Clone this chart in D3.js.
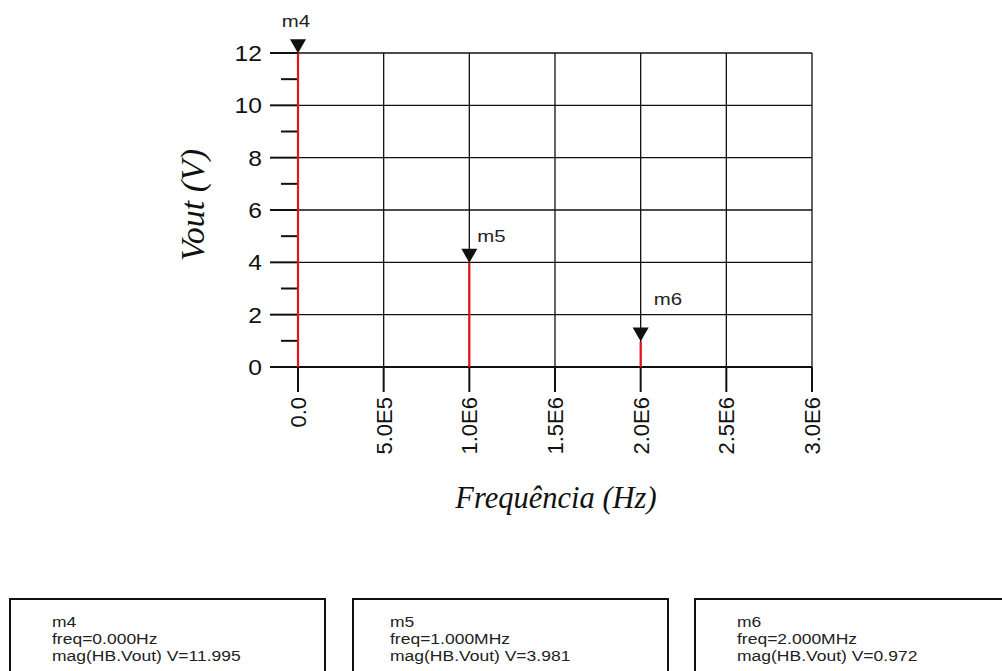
<!DOCTYPE html>
<html>
<head>
<meta charset="utf-8">
<script src="https://cdn.jsdelivr.net/npm/d3@7"></script>
<style>
  body { margin: 0; background: #fff; }
  svg { display: block; }
</style>
</head>
<body>
<svg id="chart"></svg>
<script>
const W = 1002, H = 671;

// marker data (harmonic balance spectrum)
const markerNames = ["m4", "m5", "m6"];
const markerFreqs = [0, 1e6, 2e6];
const markerMags = [11.995, 3.981, 0.972];

const xTicks = [0, 5e5, 1e6, 1.5e6, 2e6, 2.5e6, 3e6];
const xTickLabels = ["0.0", "5.0E5", "1.0E6", "1.5E6", "2.0E6", "2.5E6", "3.0E6"];
const yMajor = [0, 2, 4, 6, 8, 10, 12];
const yMinor = [1, 3, 5, 7, 9, 11];

const svg = d3.select("#chart")
  .attr("width", W)
  .attr("height", H);

const x = d3.scaleLinear().domain([0, 3e6]).range([298, 812]);
const y = d3.scaleLinear().domain([0, 12]).range([367, 53]);

const ink = "#111";
const sans = "Liberation Sans, Arial, sans-serif";
const serif = "Liberation Serif, Times New Roman, serif";

// grid
svg.append("g").selectAll("line")
  .data(yMajor.slice(1))
  .enter().append("line")
  .attr("x1", x(0)).attr("x2", x(3e6))
  .attr("y1", d => y(d)).attr("y2", d => y(d))
  .attr("stroke", ink).attr("stroke-width", 1.3);

svg.append("g").selectAll("line")
  .data(xTicks.slice(1))
  .enter().append("line")
  .attr("x1", d => x(d)).attr("x2", d => x(d))
  .attr("y1", y(0)).attr("y2", y(12))
  .attr("stroke", ink).attr("stroke-width", 1.3);

// y axis
const yAxis = svg.append("g");
yAxis.append("line")
  .attr("x1", x(0)).attr("x2", x(0))
  .attr("y1", y(0)).attr("y2", y(12))
  .attr("stroke", ink).attr("stroke-width", 2);
yAxis.selectAll(".major")
  .data(yMajor)
  .enter().append("line")
  .attr("x1", x(0) - 28).attr("x2", x(0))
  .attr("y1", d => y(d)).attr("y2", d => y(d))
  .attr("stroke", ink).attr("stroke-width", 2);
yAxis.selectAll(".minor")
  .data(yMinor)
  .enter().append("line")
  .attr("x1", x(0) - 17).attr("x2", x(0))
  .attr("y1", d => y(d)).attr("y2", d => y(d))
  .attr("stroke", ink).attr("stroke-width", 2);
yAxis.selectAll("text")
  .data(yMajor)
  .enter().append("text")
  .attr("transform", d => `translate(${x(0) - 36},${y(d)}) scale(1.12,1)`)
  .attr("dy", "0.36em")
  .attr("text-anchor", "end")
  .attr("font-family", sans)
  .attr("font-size", 22)
  .attr("fill", ink)
  .text(d => d);

// x axis
const xAxis = svg.append("g");
xAxis.append("line")
  .attr("x1", x(0)).attr("x2", x(3e6))
  .attr("y1", y(0)).attr("y2", y(0))
  .attr("stroke", ink).attr("stroke-width", 2.2);
xAxis.selectAll(".tick")
  .data(xTicks)
  .enter().append("line")
  .attr("x1", d => x(d)).attr("x2", d => x(d))
  .attr("y1", y(0)).attr("y2", y(0) + 25)
  .attr("stroke", ink).attr("stroke-width", 2);
xAxis.selectAll("text")
  .data(xTicks)
  .enter().append("text")
  .attr("transform", d => `translate(${x(d)},${y(0) + 30}) rotate(-90)`)
  .attr("dy", "0.36em")
  .attr("text-anchor", "end")
  .attr("font-family", sans)
  .attr("font-size", 22)
  .attr("fill", ink)
  .text((d, i) => xTickLabels[i]);

// axis titles
svg.append("text")
  .attr("x", 556)
  .attr("y", 508)
  .attr("text-anchor", "middle")
  .attr("font-family", serif)
  .attr("font-style", "italic")
  .attr("font-size", 30.5)
  .attr("fill", ink)
  .text("Frequência (Hz)");

svg.append("text")
  .attr("transform", "translate(204,205) rotate(-90)")
  .attr("text-anchor", "middle")
  .attr("font-family", serif)
  .attr("font-style", "italic")
  .attr("font-size", 34)
  .attr("fill", ink)
  .text("Vout (V)");

// spectrum stems
const markers = markerNames.map((name, i) => ({ name, f: markerFreqs[i], v: markerMags[i] }));

svg.append("g").selectAll("line")
  .data(markers)
  .enter().append("line")
  .attr("x1", d => x(d.f)).attr("x2", d => x(d.f))
  .attr("y1", y(0)).attr("y2", d => y(d.v))
  .attr("stroke", "#e8121b").attr("stroke-width", 2.2);

// marker triangles + labels
const labelOffsets = [[-2, -26], [8, -21], [13, -37]];
const mk = svg.append("g").selectAll("g")
  .data(markers)
  .enter().append("g")
  .attr("transform", d => `translate(${x(d.f)},${y(d.v)})`);

mk.append("path")
  .attr("d", "M0,0 L-8,-14 L8,-14 Z")
  .attr("fill", ink);

mk.append("text")
  .attr("transform", (d, i) => `translate(${labelOffsets[i][0]},${labelOffsets[i][1]}) scale(1.2,1)`)
  .attr("text-anchor", (d, i) => i === 0 ? "middle" : "start")
  .attr("font-family", sans)
  .attr("font-size", 17)
  .attr("fill", "#222")
  .text(d => d.name);

// readout boxes
function fmtFreq(f) {
  if (f >= 1e6) return (f / 1e6).toFixed(3) + "MHz";
  if (f >= 1e3) return (f / 1e3).toFixed(3) + "kHz";
  return f.toFixed(3) + "Hz";
}
const boxLeft = [10, 353, 695];
const textLeft = [52, 390, 737];

const box = svg.append("g").selectAll("g")
  .data(markers)
  .enter().append("g");

box.append("rect")
  .attr("x", (d, i) => boxLeft[i])
  .attr("y", 599)
  .attr("width", 315)
  .attr("height", 90)
  .attr("fill", "none")
  .attr("stroke", ink)
  .attr("stroke-width", 2);

box.each(function(d, i) {
  const lines = [d.name, "freq=" + fmtFreq(d.f), "mag(HB.Vout) V=" + d.v.toFixed(3)];
  d3.select(this).selectAll("text")
    .data(lines)
    .enter().append("text")
    .attr("transform", (t, j) => `translate(${textLeft[i]},${627 + j * 17}) scale(1.13,1)`)
    .attr("font-family", sans)
    .attr("font-size", 15.5)
    .attr("fill", "#222")
    .text(t => t);
});
</script>
</body>
</html>
